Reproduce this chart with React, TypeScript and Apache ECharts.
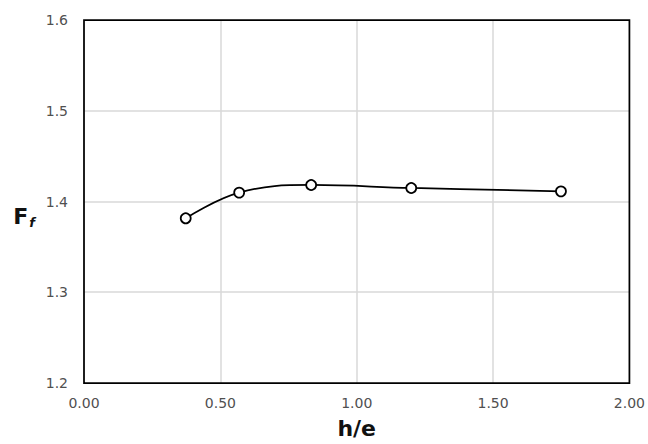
import React, { useEffect, useRef } from "react";
import * as echarts from "echarts";

const xValues = [0.373, 0.569, 0.833, 1.2, 1.749];
const yValues = [1.3815, 1.4098, 1.4182, 1.4149, 1.4112];
const xTicks = { min: 0, max: 2, interval: 0.5 };
const yTicks = { min: 1.2, max: 1.6, interval: 0.1 };

export default function App() {
  const ref = useRef<HTMLDivElement>(null);
  useEffect(() => {
    document.body.style.margin = "0";
    document.documentElement.style.overflow = "hidden";
    const chart = echarts.init(ref.current!, null, { renderer: "svg", width: 648, height: 444 });
    const font = "DejaVu Sans, Verdana, sans-serif";
    chart.setOption({
      animation: false,
      backgroundColor: "#fff",
      grid: {
        left: 84,
        right: 15,
        top: 20,
        bottom: 57,
        show: true,
        borderColor: "#000",
        borderWidth: 1.75,
        z: 3,
        containLabel: false,
      },
      xAxis: {
        type: "value",
        min: xTicks.min,
        max: xTicks.max,
        interval: xTicks.interval,
        name: "h/e",
        nameLocation: "middle",
        nameGap: 34,
        nameTextStyle: { fontFamily: font, fontWeight: "bold", fontSize: 22, color: "#111" },
        axisLine: { show: false },
        axisTick: { show: false },
        axisLabel: {
          fontFamily: font,
          fontSize: 14,
          color: "#505050",
          margin: 13,
          formatter: (v: number) => v.toFixed(2),
        },
        splitLine: {
          show: true,
          showMinLine: false,
          showMaxLine: false,
          lineStyle: { color: "#d9d9d9", width: 1.5 },
        },
      },
      yAxis: {
        type: "value",
        min: yTicks.min,
        max: yTicks.max,
        interval: yTicks.interval,
        name: "{a|F}{b|f}",
        nameLocation: "middle",
        nameRotate: 0,
        nameGap: 49,
        nameTextStyle: {
          padding: [30, 0, 0, 0],
          rich: {
            a: { fontFamily: font, fontWeight: "bold", fontSize: 22, color: "#111" },
            b: {
              fontFamily: font,
              fontWeight: "bold",
              fontStyle: "italic",
              fontSize: 13,
              color: "#111",
              padding: [12, 0, 0, 1],
            },
          },
        },
        axisLine: { show: false },
        axisTick: { show: false },
        axisLabel: {
          fontFamily: font,
          fontSize: 14,
          color: "#505050",
          margin: 16,
          formatter: (v: number) => v.toFixed(1),
        },
        splitLine: {
          show: true,
          showMinLine: false,
          showMaxLine: false,
          lineStyle: { color: "#d9d9d9", width: 1.5 },
        },
      },
      series: [
        {
          type: "line",
          data: xValues.map((x, i) => [x, yValues[i]]),
          smooth: 0.4,
          symbol: "circle",
          symbolSize: 10,
          z: 5,
          lineStyle: { color: "#000", width: 1.75 },
          itemStyle: { color: "#fff", borderColor: "#000", borderWidth: 1.75 },
        },
      ],
    });
    return () => chart.dispose();
  }, []);
  return (
    <div
      ref={ref}
      style={{ position: "fixed", left: 0, top: 0, width: 648, height: 444 }}
    />
  );
}
